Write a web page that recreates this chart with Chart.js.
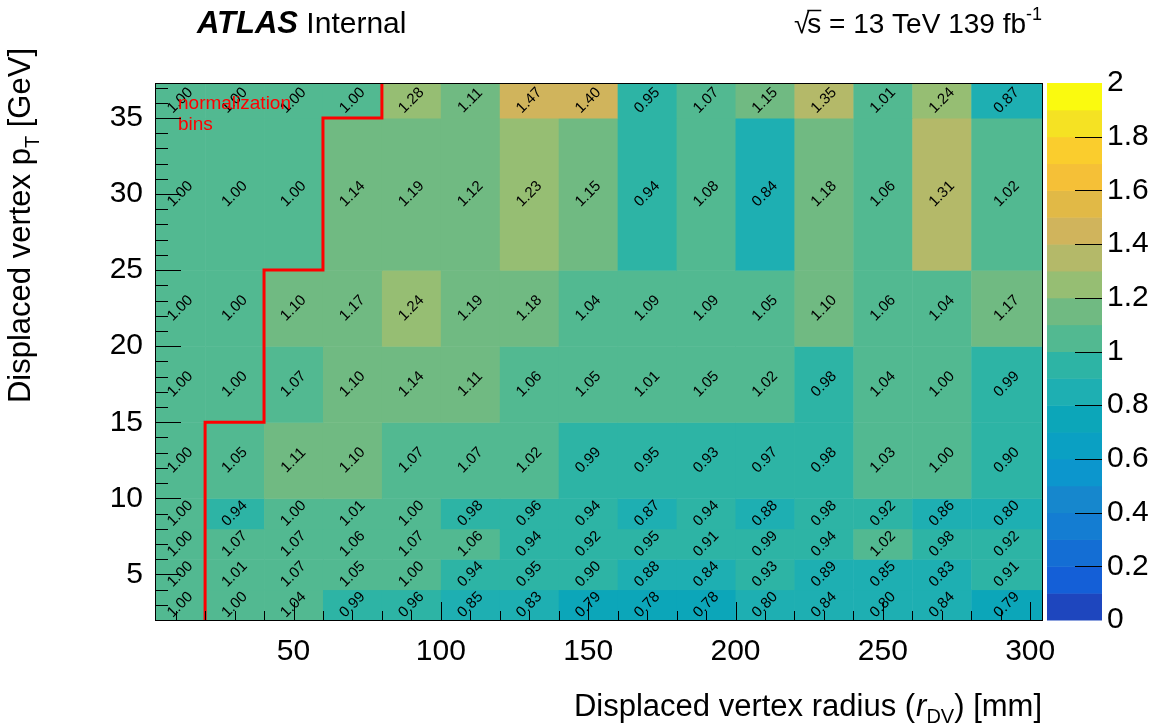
<!DOCTYPE html>
<html><head><meta charset="utf-8">
<script src="https://cdn.jsdelivr.net/npm/chart.js@4.4.1/dist/chart.umd.min.js"></script>
<style>html,body{margin:0;background:#fff}#c{display:block}</style>
</head><body>
<div style="width:1156px;height:726px"><canvas id="c"></canvas></div>
<script>
const xEdges=[3,20,40,60,80,100,120,140,160,180,200,220,240,260,280,304];
const yEdges=[2,4,6,8,10,15,20,25,35,37.3];
const xTicks=[50,100,150,200,250,300];
const yTicks=[5,10,15,20,25,30,35];
const zTicks=[0,0.2,0.4,0.6,0.8,1,1.2,1.4,1.6,1.8,2];
// rows bottom to top
const row_2_4  =[1.00,1.00,1.04,0.99,0.96,0.85,0.83,0.79,0.78,0.78,0.80,0.84,0.80,0.84,0.79];
const row_4_6  =[1.00,1.01,1.07,1.05,1.00,0.94,0.95,0.90,0.88,0.84,0.93,0.89,0.85,0.83,0.91];
const row_6_8  =[1.00,1.07,1.07,1.06,1.07,1.06,0.94,0.92,0.95,0.91,0.99,0.94,1.02,0.98,0.92];
const row_8_10 =[1.00,0.94,1.00,1.01,1.00,0.98,0.96,0.94,0.87,0.94,0.88,0.98,0.92,0.86,0.80];
const row_10_15=[1.00,1.05,1.11,1.10,1.07,1.07,1.02,0.99,0.95,0.93,0.97,0.98,1.03,1.00,0.90];
const row_15_20=[1.00,1.00,1.07,1.10,1.14,1.11,1.06,1.05,1.01,1.05,1.02,0.98,1.04,1.00,0.99];
const row_20_25=[1.00,1.00,1.10,1.17,1.24,1.19,1.18,1.04,1.09,1.09,1.05,1.10,1.06,1.04,1.17];
const row_25_35=[1.00,1.00,1.00,1.14,1.19,1.12,1.23,1.15,0.94,1.08,0.84,1.18,1.06,1.31,1.02];
const row_35_37=[1.00,1.00,1.00,1.00,1.28,1.11,1.47,1.40,0.95,1.07,1.15,1.35,1.01,1.24,0.87];
const rows=[row_2_4,row_4_6,row_6_8,row_8_10,row_10_15,row_15_20,row_20_25,row_25_35,row_35_37];
const normLineX=[20,20,40,40,60,60,80,80];
const normLineY=[2,15,15,25,25,35,35,37.3];
const palette=['rgb(40,58,160)','rgb(30,70,190)','rgb(20,95,215)','rgb(20,110,212)','rgb(20,125,210)','rgb(22,135,205)','rgb(12,150,205)','rgb(10,160,195)','rgb(12,166,185)','rgb(30,175,178)','rgb(45,180,165)','rgb(82,185,145)','rgb(112,186,130)','rgb(150,190,115)','rgb(180,185,105)','rgb(208,180,92)','rgb(225,185,70)','rgb(245,192,55)','rgb(250,205,45)','rgb(245,226,35)','rgb(250,250,15)'];
function bandColor(v){let i=Math.floor(v/0.1+1e-6);i=Math.max(0,Math.min(19,i));return palette[i+1];}
const F='"Liberation Sans", Arial, sans-serif';

const cells={id:'cells',beforeDatasetsDraw(ch){
  const c=ch.ctx,x=ch.scales.x,y=ch.scales.y,z=ch.scales.z,a=ch.chartArea;
  c.save();
  rows.forEach((r,j)=>r.forEach((v,i)=>{
    const x0=x.getPixelForValue(xEdges[i]),x1=x.getPixelForValue(xEdges[i+1]);
    const y0=y.getPixelForValue(yEdges[j]),y1=y.getPixelForValue(yEdges[j+1]);
    c.fillStyle=bandColor(v);c.fillRect(x0,y1,x1-x0+0.5,y0-y1+0.5);
  }));
  rows.forEach((r,j)=>r.forEach((v,i)=>{
    const cx=(x.getPixelForValue(xEdges[i])+x.getPixelForValue(xEdges[i+1]))/2;
    const cy=(y.getPixelForValue(yEdges[j])+y.getPixelForValue(yEdges[j+1]))/2;
    c.save();c.translate(cx,cy);c.rotate(-Math.PI/4);c.fillStyle='#000';c.font='15px '+F;c.textAlign='center';c.textBaseline='middle';c.fillText(v.toFixed(2),0,0);c.restore();
  }));
  c.strokeStyle='#ff0000';c.lineWidth=3;c.beginPath();
  normLineX.forEach((xv,k)=>{const px=x.getPixelForValue(xv),py=y.getPixelForValue(normLineY[k]);k?c.lineTo(px,py):c.moveTo(px,py);});
  c.stroke();
  c.fillStyle='#ff0000';c.font='19px '+F;c.textAlign='left';c.textBaseline='alphabetic';
  c.fillText('normalization',178,109);c.fillText('bins',178,130);
  c.strokeStyle='#000';c.lineWidth=1;c.strokeRect(a.left+0.5,a.top+0.5,a.right-a.left,a.bottom-a.top);
  c.beginPath();
  for(let v=10;v<=300;v+=10){const px=Math.round(x.getPixelForValue(v))+0.5;const L=v%50==0?18:9;c.moveTo(px,a.bottom);c.lineTo(px,a.bottom-L);}
  for(let v=3;v<=37;v++){const py=Math.round(y.getPixelForValue(v))+0.5;const L=v%5==0?26:13;c.moveTo(a.left,py);c.lineTo(a.left+L,py);}
  c.stroke();
  const bl=a.right+5,br=a.right+60;
  for(let i=0;i<20;i++){const y0=z.getPixelForValue(i*0.1),y1=z.getPixelForValue((i+1)*0.1);c.fillStyle=palette[i+1];c.fillRect(bl,y1,br-bl,y0-y1+0.5);}
  c.beginPath();
  for(let k=1;k<10;k++){const py=Math.round(z.getPixelForValue(k*0.2))+0.5;c.moveTo(br,py);c.lineTo(br-27,py);}
  c.stroke();
  c.fillStyle='#000';c.textBaseline='alphabetic';
  c.font='italic bold 31px '+F;c.fillText('ATLAS',197,33);
  const w=c.measureText('ATLAS').width;c.font='30px '+F;c.fillText(' Internal',197+w,33);
  c.textAlign='right';
  const t1=' = 13 TeV 139 fb';c.font='18px '+F;const sw=c.measureText('-1').width;
  c.fillText('-1',1042,20);c.font='28px '+F;c.fillText(t1,1042-sw,33);
  const wt=c.measureText(t1).width;const sx=1042-sw-wt;
  c.fillText('s',sx,33);const ws=c.measureText('s').width;c.fillText('√',sx-ws+2,33);
  c.beginPath();c.moveTo(sx-ws,10.5);c.lineTo(sx,10.5);c.lineWidth=1.5;c.stroke();
  c.textAlign='right';c.font='31px '+F;
  const xt1=') [mm]';c.fillText(xt1,1042,716);let px=1042-c.measureText(xt1).width;
  c.font='20px '+F;c.fillText('DV',px,723);px-=c.measureText('DV').width;
  c.font='italic 31px '+F;c.fillText('r',px,716);px-=c.measureText('r').width+1;
  c.font='31px '+F;c.fillText('Displaced vertex radius (',px,716);
  c.save();c.translate(30,48);c.rotate(-Math.PI/2);c.textAlign='right';
  const yt=' [GeV]';c.fillText(yt,0,0);let qx=-c.measureText(yt).width;
  c.font='20px '+F;c.fillText('T',qx,9);qx-=c.measureText('T').width;
  c.font='31px '+F;c.fillText('Displaced vertex p',qx,0);c.restore();
  c.restore();
}};

new Chart(document.getElementById('c'),{
  type:'scatter',
  data:{datasets:[{data:[],yAxisID:'y'},{data:[],yAxisID:'z'}]},
  options:{responsive:true,maintainAspectRatio:false,animation:false,
    layout:{padding:{top:44,left:0,right:0,bottom:0}},
    plugins:{legend:{display:false},tooltip:{enabled:false}},
    scales:{
      x:{type:'linear',min:3,max:304,afterBuildTicks:s=>{s.ticks=xTicks.map(v=>({value:v}));},
         afterFit:s=>{s.height=106;},grid:{display:false},border:{display:false},
         ticks:{color:'#000',font:{size:30,family:F},padding:6,maxRotation:0}},
      y:{type:'linear',min:2,max:37.3,position:'left',afterBuildTicks:s=>{s.ticks=yTicks.map(v=>({value:v}));},
         afterFit:s=>{s.width=155;},grid:{display:false},border:{display:false},
         ticks:{color:'#000',font:{size:30,family:F},padding:4}},
      z:{type:'linear',min:0,max:2,position:'right',afterBuildTicks:s=>{s.ticks=zTicks.map(v=>({value:v}));},
         afterFit:s=>{s.width=114;},grid:{display:false,drawTicks:false},border:{display:false},
         ticks:{color:'#000',font:{size:30,family:F},padding:65,callback:v=>String(Math.round(v*10)/10)}}
    }},
  plugins:[cells]
});
</script></body></html>
